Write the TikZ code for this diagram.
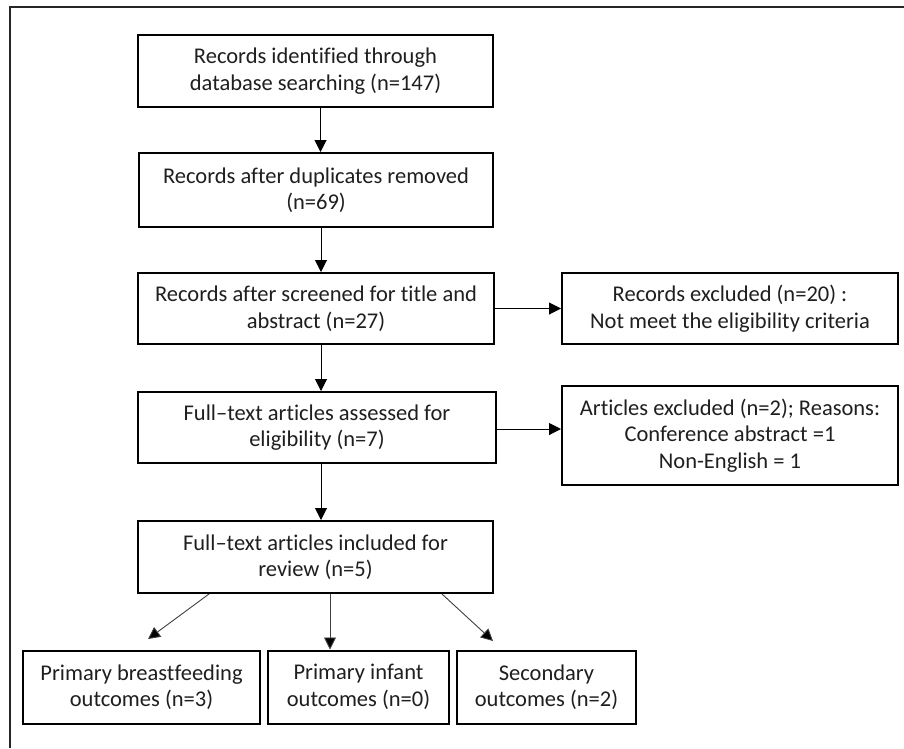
\documentclass[tikz,border=0pt]{standalone}
\usepackage{fontspec}
\setmainfont[Ligatures={TeX,NoCommon}]{Carlito}
\usetikzlibrary{arrows.meta}
\begin{document}
\begin{tikzpicture}[x=1pt,y=-1pt,
  box/.style={draw=black, line width=2pt, rectangle, align=center,
    inner sep=0pt, text=black!88,
    font=\fontsize{22.5pt}{26.5pt}\selectfont},
  arr/.style={line width=1pt, -{Triangle[length=12pt,width=12pt]}},
  darr/.style={line width=0.9pt, draw=black!75, -{Triangle[length=12pt,width=12pt,fill=black]}}]
  \useasboundingbox (0,0) rectangle (904,748);
  \fill[white] (0,0) rectangle (904,748);
  % outer frame
  \draw[line width=1.2pt, black!85] (10,748) -- (10,7) -- (904,7);

  % main column
  \node[box, minimum width=355pt, minimum height=72pt] (b1) at (315.5,71)
    {Records identified through\\database searching (n=147)};
  \node[box, minimum width=354pt, minimum height=74pt] (b2) at (316,190)
    {Records after duplicates removed\\(n=69)};
  \node[box, minimum width=356pt, minimum height=71pt] (b3) at (316,308.5)
    {Records after screened for title and\\abstract (n=27)};
  \node[box, minimum width=358pt, minimum height=71pt] (b4) at (317,427.5)
    {Full–text articles assessed for\\eligibility (n=7)};
  \node[box, minimum width=355pt, minimum height=72pt] (b5) at (315.5,557)
    {Full–text articles included for\\review (n=5)};

  % exclusion boxes
  \node[box, minimum width=336pt, minimum height=71pt] (e1) at (730,308.5)
    {Records excluded (n=20) :\\Not meet the eligibility criteria};
  \node[box, minimum width=336pt, minimum height=99pt] (e2) at (730,435.5)
    {Articles excluded (n=2); Reasons:\\Conference abstract =1\\Non-English = 1};

  % outcome boxes
  \node[box, minimum width=237pt, minimum height=73pt] (o1) at (141.5,687)
    {Primary breastfeeding\\outcomes (n=3)};
  \node[box, minimum width=181pt, minimum height=73pt] (o2) at (358.5,687)
    {Primary infant\\outcomes (n=0)};
  \node[box, minimum width=179pt, minimum height=73pt] (o3) at (546.5,687)
    {Secondary\\outcomes (n=2)};

  % vertical flow
  \draw[arr] ([xshift=5pt]b1.south) -- ([xshift=5pt]b1.south |- b2.north);
  \draw[arr] ([xshift=5pt]b2.south) -- ([xshift=5pt]b2.south |- b3.north);
  \draw[arr] ([xshift=5pt]b3.south) -- ([xshift=5pt]b3.south |- b4.north);
  \draw[arr] ([xshift=4pt]b4.south) -- ([xshift=4pt]b4.south |- b5.north);

  % exclusions
  \draw[arr] (b3.east) -- (e1.west);
  \draw[arr] ([yshift=-1.5pt]b4.east) -- ([yshift=-1.5pt]b4.east -| e2.west);

  % split into outcomes
  \coordinate (t1) at (148,639);
  \coordinate (t3) at (493,641);
  \draw[darr] ([xshift=-106.5pt]b5.south) -- (t1);
  \draw[darr] ([xshift=14.5pt]b5.south) -- ([xshift=14.5pt]b5.south |- o2.north);
  \draw[darr] ([xshift=126.5pt]b5.south) -- (t3);
\end{tikzpicture}
\end{document}
